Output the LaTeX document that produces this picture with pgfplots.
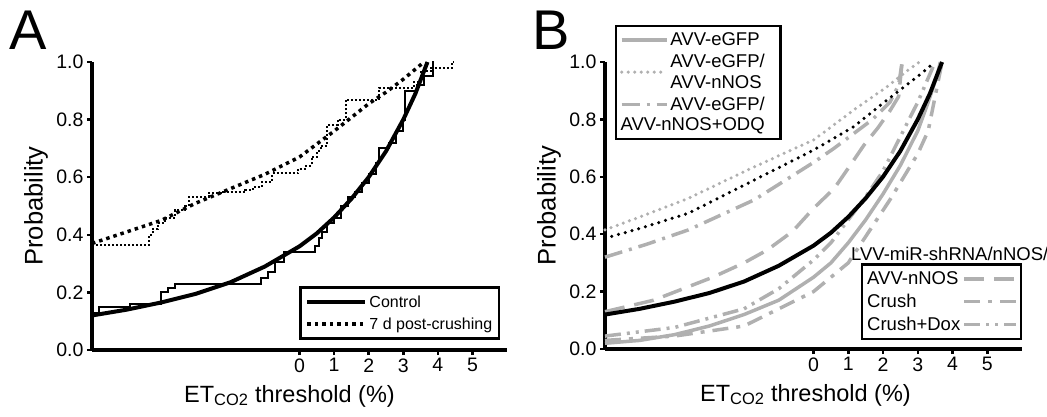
\documentclass[border=0pt]{standalone}
\usepackage{fontspec}
\setmainfont{Liberation Sans}
\usepackage{pgfplots}
\pgfplotsset{compat=1.18}
\definecolor{lgrey}{RGB}{176,176,176}

\pgfplotsset{
  panel/.style={
    scale only axis, anchor=south west,
    xmin=-6, xmax=6, ymin=0, ymax=1, clip=false,
    axis lines*=left, axis line style={line width=4pt},
    xtick={0,1,2,3,4,5}, ytick={0,0.2,0.4,0.6,0.8,1},
    tick align=outside, major tick length=5pt,
    tick style={black, line width=2.5pt},
    tick label style={font=\fontsize{19.5}{20}\selectfont},
    /pgf/number format/assume math mode=true,
    yticklabel style={/pgf/number format/.cd, fixed, fixed zerofill, precision=1},
    xlabel={ET\textsubscript{CO2} threshold (\%)},
    ylabel={Probability},
    every axis x label/.style={at={(axis description cs:0.5,0)}, anchor=base,
      yshift=-52pt, xshift=-10pt, font=\fontsize{23.5}{28}\selectfont},
    every axis y label/.style={at={([xshift=-56pt]axis description cs:0,0.5)}, anchor=center,
      rotate=90, font=\fontsize{25.5}{28}\selectfont},
  },
  fitline/.style={black, line width=4pt},
  fitdot/.style={black, line width=3.5pt, dash pattern=on 3.5pt off 4pt},
  raisedimg/.style={legend image code/.code={\draw[##1] (0pt,10pt) -- (45pt,10pt);}},
}

\begin{document}
\begin{tikzpicture}
\useasboundingbox (0,0) rectangle (1047pt,416pt);
\node[anchor=base west, font=\fontsize{56}{56}\selectfont, inner sep=0pt] at (9pt,366pt) {A};
\node[anchor=base west, font=\fontsize{56}{56}\selectfont, inner sep=0pt] at (532pt,366pt) {B};

% ---------------- panel A
\begin{axis}[panel, at={(92pt,66pt)}, width=415pt, height=288pt,
  legend style={at={(axis cs:5.81,0.035)}, anchor=south east, draw=black, line width=2.5pt,
    font=\fontsize{16}{18}\selectfont, row sep=5pt, inner xsep=5pt, inner ysep=6pt},
  legend cell align=left,
  legend image code/.code={\draw[#1] (0pt,0pt) -- (58pt,0pt);}]
\addplot[fitline] coordinates {(-6,0.12)(-5,0.14)(-4,0.165)(-3,0.195)(-2,0.235)(-1,0.29)(0,0.36)(0.5,0.405)(1,0.46)(1.5,0.525)(2,0.60)(2.5,0.69)(3,0.80)(3.35,0.89)(3.7,1.0)};
\addlegendentry{Control}
\addplot[fitdot] coordinates {(-6,0.37)(-5,0.41)(-4,0.45)(-3,0.51)(-2,0.56)(-1,0.61)(0,0.67)(1,0.76)(2,0.855)(2.5,0.895)(3,0.94)(3.6,1.0)};
\addlegendentry{7 d post-crushing}
\addplot[black, line width=2pt, const plot, forget plot] coordinates {(-6,0.13)(-5.8,0.15)(-4.9,0.16)(-4.0,0.20)(-3.8,0.214)(-3.6,0.23)(-1.1,0.25)(-0.9,0.27)(-0.7,0.305)(-0.45,0.34)(0.45,0.36)(0.55,0.39)(0.65,0.41)(0.8,0.44)(1.0,0.46)(1.2,0.50)(1.4,0.53)(1.6,0.55)(1.8,0.58)(2.0,0.61)(2.2,0.65)(2.3,0.70)(2.6,0.72)(2.8,0.76)(3.0,0.80)(3.05,0.90)(3.4,0.92)(3.6,0.95)(3.8,0.95)(3.85,1.0)(3.9,1.0)};
\addplot[black, line width=2pt, dash pattern=on 2pt off 2pt, const plot, forget plot] coordinates {(-6,0.365)(-4.36,0.40)(-4.25,0.42)(-4.1,0.44)(-3.9,0.46)(-3.6,0.486)(-3.3,0.50)(-3.2,0.53)(-2.63,0.545)(-2.2,0.55)(-1.57,0.556)(-1.35,0.567)(-1.09,0.584)(-0.8,0.613)(-0.03,0.63)(0.2,0.64)(0.35,0.67)(0.5,0.69)(0.61,0.71)(0.8,0.78)(1.1,0.80)(1.33,0.868)(2.3,0.91)(3.3,0.93)(3.5,0.97)(3.8,0.98)(4.4,1.0)(4.45,1.0)};
\end{axis}

% ---------------- panel B, upper legend
\begin{axis}[panel, at={(605pt,67pt)}, width=417pt, height=287pt,
  every axis x label/.append style={xshift=2pt},
  legend style={at={(axis cs:-5.72,1.13)}, anchor=north west, draw=black, line width=2.5pt,
    font=\fontsize{18.5}{20.5}\selectfont, row sep=3pt, inner xsep=4pt, inner ysep=5pt,
    cells={align=left}},
  legend cell align=left,
  legend image code/.code={\draw[#1] (0pt,0pt) -- (45pt,0pt);}]
\addplot[lgrey, line width=3.5pt] coordinates {(-6,0.02)(-5,0.03)(-4,0.05)(-3,0.08)(-2,0.12)(-1,0.17)(0,0.25)(0.5,0.30)(1,0.37)(1.5,0.45)(2,0.54)(2.5,0.64)(3,0.76)(3.3,0.86)(3.55,0.95)(3.65,1.0)};
\addlegendentry{\makebox[104pt][l]{AVV-eGFP}}
\addplot[lgrey, line width=3.5pt, line cap=round, dash pattern=on 0pt off 6.5pt] coordinates {(-6,0.415)(-5,0.46)(-3.6,0.525)(-1.7,0.635)(0,0.728)(1.16,0.833)(2.12,0.914)(2.7,0.97)(3.05,1.0)};
\addlegendentry{AVV-eGFP/\\AVV-nNOS}
\addplot[lgrey, line width=3.5pt, dash pattern=on 18pt off 7pt on 3pt off 7pt, raisedimg] coordinates {(-6,0.32)(-4.8,0.365)(-3.6,0.415)(-1.7,0.52)(0,0.65)(0.6,0.70)(1.7,0.80)(2.2,0.86)(2.45,0.92)(2.55,1.0)};
\addlegendentry{AVV-eGFP/\\\phantom{AVV-eGFP/}\llap{AVV-nNOS+ODQ}}
\end{axis}

% ---------------- panel B, lower legend and black fits
\begin{axis}[panel, hide axis, at={(605pt,67pt)}, width=417pt, height=287pt,
  legend style={at={(axis cs:6,0.031)}, anchor=south east, draw=black, line width=2.5pt,
    font=\fontsize{18.5}{20}\selectfont, row sep=4pt, inner xsep=3pt, inner ysep=5pt},
  legend cell align=left, legend plot pos=right,
  legend image code/.code={\draw[#1] (0pt,0pt) -- (52pt,0pt);}]
\addplot[lgrey, line width=3.5pt, dash pattern=on 20pt off 10pt] coordinates {(-6,0.13)(-4.6,0.17)(-2.9,0.25)(-2,0.30)(-1.33,0.345)(-0.6,0.41)(0,0.49)(0.6,0.56)(1.0,0.63)(1.45,0.71)(1.85,0.77)(2.2,0.83)(2.45,0.88)(2.55,1.0)};
\addlegendentry{AVV-nNOS}
\addplot[lgrey, line width=3.5pt, dash pattern=on 16pt off 8pt on 4pt off 8pt] coordinates {(-6,0.03)(-4,0.045)(-2,0.08)(-1,0.14)(0,0.20)(1,0.30)(1.6,0.41)(2.2,0.52)(2.7,0.62)(3.0,0.68)(3.3,0.76)(3.55,0.91)(3.7,1.0)};
\addlegendentry{Crush}
\addplot[lgrey, line width=3.5pt, dash pattern=on 16pt off 6pt on 3pt off 6pt on 3pt off 6pt] coordinates {(-6,0.045)(-4,0.075)(-2,0.14)(-1,0.21)(0,0.31)(0.5,0.37)(1,0.45)(1.5,0.53)(2,0.62)(2.5,0.74)(3,0.86)(3.5,1.0)};
\addlegendentry{Crush+Dox}
\addplot[fitline] coordinates {(-6,0.12)(-5,0.14)(-4,0.165)(-3,0.195)(-2,0.235)(-1,0.29)(0,0.36)(0.5,0.405)(1,0.46)(1.5,0.525)(2,0.60)(2.5,0.69)(3,0.80)(3.35,0.89)(3.7,1.0)};
\addplot[black, line width=3.5pt, line cap=round, dash pattern=on 0pt off 7pt] coordinates {(-6,0.386)(-5,0.42)(-3.6,0.473)(-1.7,0.589)(0,0.693)(1.16,0.775)(2.12,0.868)(3.0,0.95)(3.5,1.0)};
\node[anchor=base, font=\fontsize{18.5}{20}\selectfont] at (axis cs:3.92,0.31) {LVV-miR-shRNA/nNOS/};
\end{axis}
\end{tikzpicture}
\end{document}
